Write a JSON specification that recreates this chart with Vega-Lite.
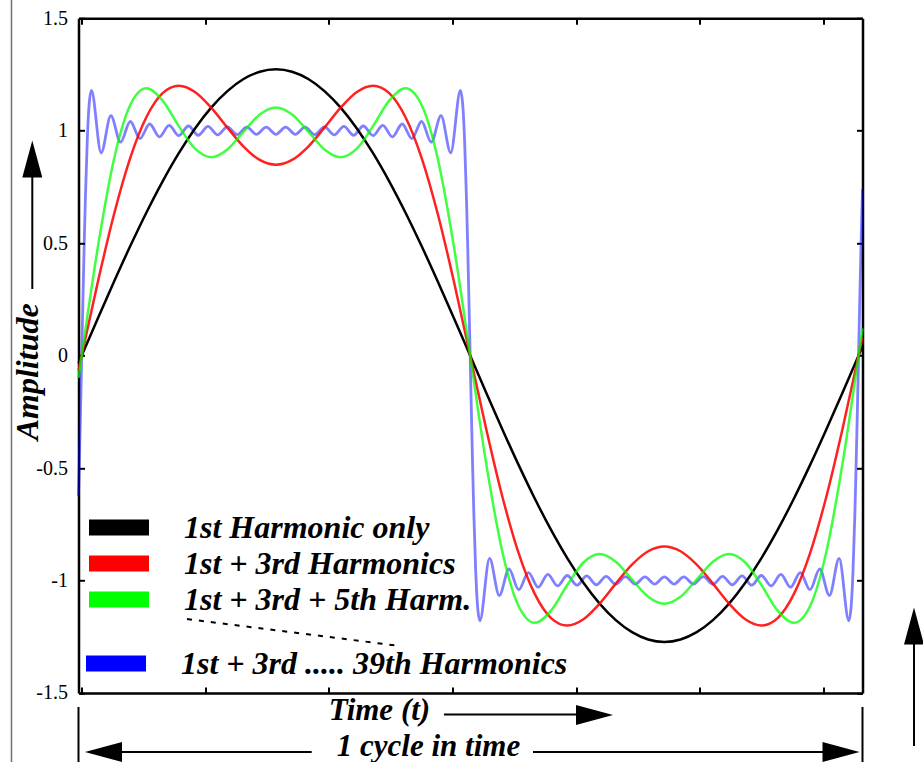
{
"$schema":"https://vega.github.io/schema/vega-lite/v6.json",
"width":784,"height":674.6,"autosize":"none",
"padding":{"left":78.5,"top":18.3,"right":60.5,"bottom":69.1},
"background":"white",
"config":{"view":{"stroke":null},"font":"Liberation Serif",
 "axis":{"domainColor":"black","domainWidth":2.5,"tickColor":"black","tickWidth":2,"tickSize":-6,"grid":false,"labelFont":"Liberation Serif","labelFontSize":20,"labelColor":"black","titleFont":"Liberation Serif","titleFontStyle":"italic","titleFontWeight":"bold","titleFontSize":31,"titleColor":"black"}},
"datasets":{
"curves":[
{"s":"1st Harmonic only","x":-0.026,"y":-0.0331},{"s":"1st Harmonic only","x":0,"y":0},{"s":"1st Harmonic only","x":0.1309,"y":0.1662},{"s":"1st Harmonic only","x":0.2618,"y":0.3295},{"s":"1st Harmonic only","x":0.3927,"y":0.4872},{"s":"1st Harmonic only","x":0.5236,"y":0.6366},{"s":"1st Harmonic only","x":0.6545,"y":0.7751},{"s":"1st Harmonic only","x":0.7854,"y":0.9003},{"s":"1st Harmonic only","x":0.9163,"y":1.0101},{"s":"1st Harmonic only","x":1.0472,"y":1.1027},{"s":"1st Harmonic only","x":1.1781,"y":1.1763},{"s":"1st Harmonic only","x":1.309,"y":1.2299},{"s":"1st Harmonic only","x":1.4399,"y":1.2623},{"s":"1st Harmonic only","x":1.5708,"y":1.2732},{"s":"1st Harmonic only","x":1.7017,"y":1.2623},{"s":"1st Harmonic only","x":1.8326,"y":1.2299},{"s":"1st Harmonic only","x":1.9635,"y":1.1763},{"s":"1st Harmonic only","x":2.0944,"y":1.1027},{"s":"1st Harmonic only","x":2.2253,"y":1.0101},{"s":"1st Harmonic only","x":2.3562,"y":0.9003},{"s":"1st Harmonic only","x":2.4871,"y":0.7751},{"s":"1st Harmonic only","x":2.618,"y":0.6366},{"s":"1st Harmonic only","x":2.7489,"y":0.4872},{"s":"1st Harmonic only","x":2.8798,"y":0.3295},{"s":"1st Harmonic only","x":3.0107,"y":0.1662},{"s":"1st Harmonic only","x":3.1416,"y":0},{"s":"1st Harmonic only","x":3.2725,"y":-0.1662},{"s":"1st Harmonic only","x":3.4034,"y":-0.3295},{"s":"1st Harmonic only","x":3.5343,"y":-0.4872},{"s":"1st Harmonic only","x":3.6652,"y":-0.6366},{"s":"1st Harmonic only","x":3.7961,"y":-0.7751},{"s":"1st Harmonic only","x":3.927,"y":-0.9003},{"s":"1st Harmonic only","x":4.0579,"y":-1.0101},{"s":"1st Harmonic only","x":4.1888,"y":-1.1027},{"s":"1st Harmonic only","x":4.3197,"y":-1.1763},{"s":"1st Harmonic only","x":4.4506,"y":-1.2299},{"s":"1st Harmonic only","x":4.5815,"y":-1.2623},{"s":"1st Harmonic only","x":4.7124,"y":-1.2732},{"s":"1st Harmonic only","x":4.8433,"y":-1.2623},{"s":"1st Harmonic only","x":4.9742,"y":-1.2299},{"s":"1st Harmonic only","x":5.1051,"y":-1.1763},{"s":"1st Harmonic only","x":5.236,"y":-1.1027},{"s":"1st Harmonic only","x":5.3669,"y":-1.0101},{"s":"1st Harmonic only","x":5.4978,"y":-0.9003},{"s":"1st Harmonic only","x":5.6287,"y":-0.7751},{"s":"1st Harmonic only","x":5.7596,"y":-0.6366},{"s":"1st Harmonic only","x":5.8905,"y":-0.4872},{"s":"1st Harmonic only","x":6.0214,"y":-0.3295},{"s":"1st Harmonic only","x":6.1523,"y":-0.1662},{"s":"1st Harmonic only","x":6.2832,"y":0},{"s":"1st Harmonic only","x":6.315,"y":0.0405},
{"s":"1st + 3rd Harmonics","x":-0.026,"y":-0.0662},{"s":"1st + 3rd Harmonics","x":0,"y":0},{"s":"1st + 3rd Harmonics","x":0.1309,"y":0.3286},{"s":"1st + 3rd Harmonics","x":0.2618,"y":0.6297},{"s":"1st + 3rd Harmonics","x":0.3927,"y":0.8794},{"s":"1st + 3rd Harmonics","x":0.5236,"y":1.061},{"s":"1st + 3rd Harmonics","x":0.6545,"y":1.1672},{"s":"1st + 3rd Harmonics","x":0.7854,"y":1.2004},{"s":"1st + 3rd Harmonics","x":0.9163,"y":1.1725},{"s":"1st + 3rd Harmonics","x":1.0472,"y":1.1027},{"s":"1st + 3rd Harmonics","x":1.1781,"y":1.0139},{"s":"1st + 3rd Harmonics","x":1.309,"y":0.9298},{"s":"1st + 3rd Harmonics","x":1.4399,"y":0.8702},{"s":"1st + 3rd Harmonics","x":1.5708,"y":0.8488},{"s":"1st + 3rd Harmonics","x":1.7017,"y":0.8702},{"s":"1st + 3rd Harmonics","x":1.8326,"y":0.9298},{"s":"1st + 3rd Harmonics","x":1.9635,"y":1.0139},{"s":"1st + 3rd Harmonics","x":2.0944,"y":1.1027},{"s":"1st + 3rd Harmonics","x":2.2253,"y":1.1725},{"s":"1st + 3rd Harmonics","x":2.3562,"y":1.2004},{"s":"1st + 3rd Harmonics","x":2.4871,"y":1.1672},{"s":"1st + 3rd Harmonics","x":2.618,"y":1.061},{"s":"1st + 3rd Harmonics","x":2.7489,"y":0.8794},{"s":"1st + 3rd Harmonics","x":2.8798,"y":0.6297},{"s":"1st + 3rd Harmonics","x":3.0107,"y":0.3286},{"s":"1st + 3rd Harmonics","x":3.1416,"y":0},{"s":"1st + 3rd Harmonics","x":3.2725,"y":-0.3286},{"s":"1st + 3rd Harmonics","x":3.4034,"y":-0.6297},{"s":"1st + 3rd Harmonics","x":3.5343,"y":-0.8794},{"s":"1st + 3rd Harmonics","x":3.6652,"y":-1.061},{"s":"1st + 3rd Harmonics","x":3.7961,"y":-1.1672},{"s":"1st + 3rd Harmonics","x":3.927,"y":-1.2004},{"s":"1st + 3rd Harmonics","x":4.0579,"y":-1.1725},{"s":"1st + 3rd Harmonics","x":4.1888,"y":-1.1027},{"s":"1st + 3rd Harmonics","x":4.3197,"y":-1.0139},{"s":"1st + 3rd Harmonics","x":4.4506,"y":-0.9298},{"s":"1st + 3rd Harmonics","x":4.5815,"y":-0.8702},{"s":"1st + 3rd Harmonics","x":4.7124,"y":-0.8488},{"s":"1st + 3rd Harmonics","x":4.8433,"y":-0.8702},{"s":"1st + 3rd Harmonics","x":4.9742,"y":-0.9298},{"s":"1st + 3rd Harmonics","x":5.1051,"y":-1.0139},{"s":"1st + 3rd Harmonics","x":5.236,"y":-1.1027},{"s":"1st + 3rd Harmonics","x":5.3669,"y":-1.1725},{"s":"1st + 3rd Harmonics","x":5.4978,"y":-1.2004},{"s":"1st + 3rd Harmonics","x":5.6287,"y":-1.1672},{"s":"1st + 3rd Harmonics","x":5.7596,"y":-1.061},{"s":"1st + 3rd Harmonics","x":5.8905,"y":-0.8794},{"s":"1st + 3rd Harmonics","x":6.0214,"y":-0.6297},{"s":"1st + 3rd Harmonics","x":6.1523,"y":-0.3286},{"s":"1st + 3rd Harmonics","x":6.2832,"y":0},{"s":"1st + 3rd Harmonics","x":6.315,"y":0.0809},
{"s":"1st + 3rd + 5th Harm.","x":-0.026,"y":-0.0992},{"s":"1st + 3rd + 5th Harm.","x":0,"y":0},{"s":"1st + 3rd + 5th Harm.","x":0.1309,"y":0.4836},{"s":"1st + 3rd + 5th Harm.","x":0.2618,"y":0.8756},{"s":"1st + 3rd + 5th Harm.","x":0.3927,"y":1.1146},{"s":"1st + 3rd + 5th Harm.","x":0.5236,"y":1.1884},{"s":"1st + 3rd + 5th Harm.","x":0.6545,"y":1.134},{"s":"1st + 3rd + 5th Harm.","x":0.7854,"y":1.0204},{"s":"1st + 3rd + 5th Harm.","x":0.9163,"y":0.9201},{"s":"1st + 3rd + 5th Harm.","x":1.0472,"y":0.8821},{"s":"1st + 3rd + 5th Harm.","x":1.1781,"y":0.9165},{"s":"1st + 3rd + 5th Harm.","x":1.309,"y":0.9957},{"s":"1st + 3rd + 5th Harm.","x":1.4399,"y":1.0723},{"s":"1st + 3rd + 5th Harm.","x":1.5708,"y":1.1035},{"s":"1st + 3rd + 5th Harm.","x":1.7017,"y":1.0723},{"s":"1st + 3rd + 5th Harm.","x":1.8326,"y":0.9957},{"s":"1st + 3rd + 5th Harm.","x":1.9635,"y":0.9165},{"s":"1st + 3rd + 5th Harm.","x":2.0944,"y":0.8821},{"s":"1st + 3rd + 5th Harm.","x":2.2253,"y":0.9201},{"s":"1st + 3rd + 5th Harm.","x":2.3562,"y":1.0204},{"s":"1st + 3rd + 5th Harm.","x":2.4871,"y":1.134},{"s":"1st + 3rd + 5th Harm.","x":2.618,"y":1.1884},{"s":"1st + 3rd + 5th Harm.","x":2.7489,"y":1.1146},{"s":"1st + 3rd + 5th Harm.","x":2.8798,"y":0.8756},{"s":"1st + 3rd + 5th Harm.","x":3.0107,"y":0.4836},{"s":"1st + 3rd + 5th Harm.","x":3.1416,"y":0},{"s":"1st + 3rd + 5th Harm.","x":3.2725,"y":-0.4836},{"s":"1st + 3rd + 5th Harm.","x":3.4034,"y":-0.8756},{"s":"1st + 3rd + 5th Harm.","x":3.5343,"y":-1.1146},{"s":"1st + 3rd + 5th Harm.","x":3.6652,"y":-1.1884},{"s":"1st + 3rd + 5th Harm.","x":3.7961,"y":-1.134},{"s":"1st + 3rd + 5th Harm.","x":3.927,"y":-1.0204},{"s":"1st + 3rd + 5th Harm.","x":4.0579,"y":-0.9201},{"s":"1st + 3rd + 5th Harm.","x":4.1888,"y":-0.8821},{"s":"1st + 3rd + 5th Harm.","x":4.3197,"y":-0.9165},{"s":"1st + 3rd + 5th Harm.","x":4.4506,"y":-0.9957},{"s":"1st + 3rd + 5th Harm.","x":4.5815,"y":-1.0723},{"s":"1st + 3rd + 5th Harm.","x":4.7124,"y":-1.1035},{"s":"1st + 3rd + 5th Harm.","x":4.8433,"y":-1.0723},{"s":"1st + 3rd + 5th Harm.","x":4.9742,"y":-0.9957},{"s":"1st + 3rd + 5th Harm.","x":5.1051,"y":-0.9165},{"s":"1st + 3rd + 5th Harm.","x":5.236,"y":-0.8821},{"s":"1st + 3rd + 5th Harm.","x":5.3669,"y":-0.9201},{"s":"1st + 3rd + 5th Harm.","x":5.4978,"y":-1.0204},{"s":"1st + 3rd + 5th Harm.","x":5.6287,"y":-1.134},{"s":"1st + 3rd + 5th Harm.","x":5.7596,"y":-1.1884},{"s":"1st + 3rd + 5th Harm.","x":5.8905,"y":-1.1146},{"s":"1st + 3rd + 5th Harm.","x":6.0214,"y":-0.8756},{"s":"1st + 3rd + 5th Harm.","x":6.1523,"y":-0.4836},{"s":"1st + 3rd + 5th Harm.","x":6.2832,"y":0},{"s":"1st + 3rd + 5th Harm.","x":6.315,"y":0.1212}
],
"blue":[
{"x":-0.026,"y":-0.624},{"x":-0.02,"y":-0.4915},{"x":-0.01,"y":-0.2524},{"x":0,"y":0},{"x":0.01,"y":0.2524},{"x":0.02,"y":0.4915},{"x":0.03,"y":0.7054},{"x":0.045,"y":0.9586},{"x":0.06,"y":1.1157},
{"x":0.0785,"y":1.179},{"x":0.1571,"y":0.902},{"x":0.2356,"y":1.067},{"x":0.3142,"y":0.949},{"x":0.3927,"y":1.041},{"x":0.4712,"y":0.965},{"x":0.5498,"y":1.03},{"x":0.6283,"y":0.973},{"x":0.7069,"y":1.024},{"x":0.7854,"y":0.978},{"x":0.8639,"y":1.021},{"x":0.9425,"y":0.98},{"x":1.021,"y":1.019},{"x":1.0996,"y":0.982},{"x":1.1781,"y":1.017},{"x":1.2566,"y":0.983},{"x":1.3352,"y":1.016},{"x":1.4137,"y":0.984},{"x":1.4923,"y":1.016},{"x":1.5708,"y":0.984},{"x":1.6493,"y":1.016},{"x":1.7279,"y":0.984},{"x":1.8064,"y":1.016},{"x":1.885,"y":0.983},{"x":1.9635,"y":1.017},{"x":2.042,"y":0.982},{"x":2.1206,"y":1.019},{"x":2.1991,"y":0.98},{"x":2.2777,"y":1.021},{"x":2.3562,"y":0.978},{"x":2.4347,"y":1.024},{"x":2.5133,"y":0.973},{"x":2.5918,"y":1.03},{"x":2.6704,"y":0.965},{"x":2.7489,"y":1.041},{"x":2.8274,"y":0.949},{"x":2.906,"y":1.067},{"x":2.9845,"y":0.902},{"x":3.0631,"y":1.179},
{"x":3.0816,"y":1.1157},{"x":3.0966,"y":0.9586},{"x":3.1116,"y":0.7054},{"x":3.1216,"y":0.4915},{"x":3.1316,"y":0.2524},{"x":3.1416,"y":0},{"x":3.1516,"y":-0.2524},{"x":3.1616,"y":-0.4915},{"x":3.1716,"y":-0.7054},{"x":3.1866,"y":-0.9586},{"x":3.2016,"y":-1.1157},
{"x":3.2201,"y":-1.179},{"x":3.2987,"y":-0.902},{"x":3.3772,"y":-1.067},{"x":3.4558,"y":-0.949},{"x":3.5343,"y":-1.041},{"x":3.6128,"y":-0.965},{"x":3.6914,"y":-1.03},{"x":3.7699,"y":-0.973},{"x":3.8485,"y":-1.024},{"x":3.927,"y":-0.978},{"x":4.0055,"y":-1.021},{"x":4.0841,"y":-0.98},{"x":4.1626,"y":-1.019},{"x":4.2412,"y":-0.982},{"x":4.3197,"y":-1.017},{"x":4.3982,"y":-0.983},{"x":4.4768,"y":-1.016},{"x":4.5553,"y":-0.984},{"x":4.6339,"y":-1.016},{"x":4.7124,"y":-0.984},{"x":4.7909,"y":-1.016},{"x":4.8695,"y":-0.984},{"x":4.948,"y":-1.016},{"x":5.0265,"y":-0.983},{"x":5.1051,"y":-1.017},{"x":5.1836,"y":-0.982},{"x":5.2622,"y":-1.019},{"x":5.3407,"y":-0.98},{"x":5.4192,"y":-1.021},{"x":5.4978,"y":-0.978},{"x":5.5763,"y":-1.024},{"x":5.6549,"y":-0.973},{"x":5.7334,"y":-1.03},{"x":5.8119,"y":-0.965},{"x":5.8905,"y":-1.041},{"x":5.969,"y":-0.949},{"x":6.0476,"y":-1.067},{"x":6.1261,"y":-0.902},{"x":6.2046,"y":-1.179},
{"x":6.2232,"y":-1.1157},{"x":6.2382,"y":-0.9586},{"x":6.2532,"y":-0.7054},{"x":6.2632,"y":-0.4915},{"x":6.2732,"y":-0.2524},{"x":6.2832,"y":0},{"x":6.2932,"y":0.2524},{"x":6.3032,"y":0.4915},{"x":6.315,"y":0.7405}
]},
"resolve":{"scale":{"color":"independent"},"legend":{"color":"independent"},"axis":{"x":"independent","y":"independent"}},
"layer":[
{"data":{"name":"blue"},
 "mark":{"type":"line","interpolate":"monotone","strokeWidth":2.8,"opacity":0.5},
 "encoding":{
  "x":{"field":"x","type":"quantitative","scale":{"domain":[-0.026,6.315],"nice":false,"zero":false},
       "axis":{"orient":"bottom","values":[0,1,2,3,4,5,6],"labels":false,"title":"Time (t)","titleX":300.5,"titleY":26.6,"titleAlign":"center","titleBaseline":"alphabetic"}},
  "y":{"field":"y","type":"quantitative","scale":{"domain":[-1.5,1.5],"nice":false,"zero":false},
       "axis":{"orient":"left","values":[-1.5,-1,-0.5,0,0.5,1,1.5],"labelPadding":17,"labelFont":"Liberation Serif","labelFontSize":20,"labelExpr":"datum.value < 0 ? '-' + format(-datum.value, '~g') : format(datum.value, '~g')","title":"Amplitude","titleFontSize":32,"titleX":-41.5,"titleY":353,"titleAngle":-90,"titleAlign":"center","titleBaseline":"alphabetic"}},
  "color":{"datum":"1st + 3rd ..... 39th Harmonics","type":"nominal","scale":{"domain":["1st + 3rd ..... 39th Harmonics"],"range":["#0000ff"]},
       "legend":{"orient":"none","legendX":-0.5,"legendY":627.2,"title":null,"padding":0,"rowPadding":0,"clipHeight":36,"symbolType":"M-1,0H1","symbolSize":3600,"symbolStrokeWidth":16,"symbolOpacity":1,"symbolOffset":0,"labelOffset":27,"labelFont":"Liberation Serif","labelFontSize":32,"labelFontStyle":"italic","labelFontWeight":"bold","labelColor":"black","labelLimit":700}}
 }},
{"data":{"name":"curves"},
 "mark":{"type":"line","interpolate":"monotone","strokeWidth":2.5},
 "encoding":{
  "x":{"field":"x","type":"quantitative","scale":{"domain":[-0.026,6.315],"nice":false,"zero":false},
       "axis":{"orient":"top","values":[0,1,2,3,4,5,6],"labels":false,"title":null}},
  "y":{"field":"y","type":"quantitative","scale":{"domain":[-1.5,1.5],"nice":false,"zero":false},
       "axis":{"orient":"right","values":[-1.5,-1,-0.5,0,0.5,1,1.5],"labels":false,"title":null}},
  "color":{"field":"s","type":"nominal","scale":{"domain":["1st Harmonic only","1st + 3rd Harmonics","1st + 3rd + 5th Harm."],"range":["#000000","#ff0000","#00ff00"]},
       "legend":{"orient":"none","legendX":2.5,"legendY":491.2,"title":null,"padding":0,"rowPadding":0,"clipHeight":36,"symbolType":"M-1,0H1","symbolSize":3600,"symbolStrokeWidth":16,"symbolOpacity":1,"symbolOffset":0,"labelOffset":27,"labelFont":"Liberation Serif","labelFontSize":32,"labelFontStyle":"italic","labelFontWeight":"bold","labelColor":"black","labelLimit":700}},
  "opacity":{"field":"s","type":"nominal","scale":{"domain":["1st Harmonic only","1st + 3rd Harmonics","1st + 3rd + 5th Harm."],"range":[1,0.75,0.75]},"legend":null}
 }},
{"data":{"values":[{}]},"mark":{"type":"rule","color":"#707070","strokeWidth":1.5},
 "encoding":{"x":{"datum":-0.5679,"type":"quantitative","axis":null},"y":{"datum":1.5814,"type":"quantitative","axis":null},"y2":{"datum":-1.8073}}},
{"data":{"values":[{}]},"mark":{"type":"rule","color":"black","strokeWidth":2},
 "encoding":{"x":{"datum":-0.3997,"type":"quantitative","axis":null},"y":{"datum":0.7942,"type":"quantitative","axis":null},"y2":{"datum":0.2962}}},
{"data":{"values":[{}]},"mark":{"type":"point","shape":"M0,-1L0.54,1L-0.54,1Z","size":1369,"filled":true,"color":"black","opacity":1,"strokeWidth":0},
 "encoding":{"x":{"datum":-0.3997,"type":"quantitative","axis":null},"y":{"datum":0.8743,"type":"quantitative","axis":null}}},
{"data":{"values":[{}]},"mark":{"type":"rule","color":"black","strokeWidth":2},
 "encoding":{"x":{"datum":2.9302,"type":"quantitative","axis":null},"x2":{"datum":4.0139},"y":{"datum":-1.5961,"type":"quantitative","axis":null}}},
{"data":{"values":[{}]},"mark":{"type":"point","shape":"M1,0L-1,-0.54L-1,0.54Z","size":1369,"filled":true,"color":"black","opacity":1,"strokeWidth":0},
 "encoding":{"x":{"datum":4.1474,"type":"quantitative","axis":null},"y":{"datum":-1.5983,"type":"quantitative","axis":null}}},
{"data":{"values":[{}]},"mark":{"type":"rule","color":"black","strokeWidth":2},
 "encoding":{"x":{"datum":0.3097,"type":"quantitative","axis":null},"x2":{"datum":1.8601},"y":{"datum":-1.7628,"type":"quantitative","axis":null}}},
{"data":{"values":[{}]},"mark":{"type":"rule","color":"black","strokeWidth":2},
 "encoding":{"x":{"datum":3.65,"type":"quantitative","axis":null},"x2":{"datum":6.0035},"y":{"datum":-1.7628,"type":"quantitative","axis":null}}},
{"data":{"values":[{}]},"mark":{"type":"point","shape":"M-1,0L1,-0.54L1,0.54Z","size":1369,"filled":true,"color":"black","opacity":1,"strokeWidth":0},
 "encoding":{"x":{"datum":0.1762,"type":"quantitative","axis":null},"y":{"datum":-1.7628,"type":"quantitative","axis":null}}},
{"data":{"values":[{}]},"mark":{"type":"point","shape":"M1,0L-1,-0.54L-1,0.54Z","size":1369,"filled":true,"color":"black","opacity":1,"strokeWidth":0},
 "encoding":{"x":{"datum":6.1411,"type":"quantitative","axis":null},"y":{"datum":-1.7628,"type":"quantitative","axis":null}}},
{"data":{"values":[{}]},"mark":{"type":"rule","color":"black","strokeWidth":2},
 "encoding":{"x":{"datum":-0.026,"type":"quantitative","axis":null},"y":{"datum":-1.5627,"type":"quantitative","axis":null},"y2":{"datum":-1.8073}}},
{"data":{"values":[{}]},"mark":{"type":"rule","color":"black","strokeWidth":2},
 "encoding":{"x":{"datum":6.315,"type":"quantitative","axis":null},"y":{"datum":-1.5627,"type":"quantitative","axis":null},"y2":{"datum":-1.8073}}},
{"data":{"values":[{}]},"mark":{"type":"rule","color":"black","strokeWidth":2},
 "encoding":{"x":{"datum":6.7315,"type":"quantitative","axis":null},"y":{"datum":-1.2737,"type":"quantitative","axis":null},"y2":{"datum":-1.7362}}},
{"data":{"values":[{}]},"mark":{"type":"point","shape":"M0,-1L0.54,1L-0.54,1Z","size":1369,"filled":true,"color":"black","opacity":1,"strokeWidth":0},
 "encoding":{"x":{"datum":6.7315,"type":"quantitative","axis":null},"y":{"datum":-1.2025,"type":"quantitative","axis":null}}},
{"data":{"values":[{}]},"mark":{"type":"rule","color":"black","strokeWidth":2,"strokeDash":[5,7]},
 "encoding":{"x":{"datum":0.8515,"type":"quantitative","axis":null},"x2":{"datum":2.5743},"y":{"datum":-1.1714,"type":"quantitative","axis":null},"y2":{"datum":-1.2914}}},
{"data":{"values":[{}]},"mark":{"type":"text","text":"1 cycle in time","font":"Liberation Serif","fontSize":31,"fontStyle":"italic","fontWeight":"bold","align":"center","baseline":"alphabetic","color":"black"},
 "encoding":{"x":{"datum":2.8048,"type":"quantitative","axis":null},"y":{"datum":-1.7806,"type":"quantitative","axis":null}}}
]
}
